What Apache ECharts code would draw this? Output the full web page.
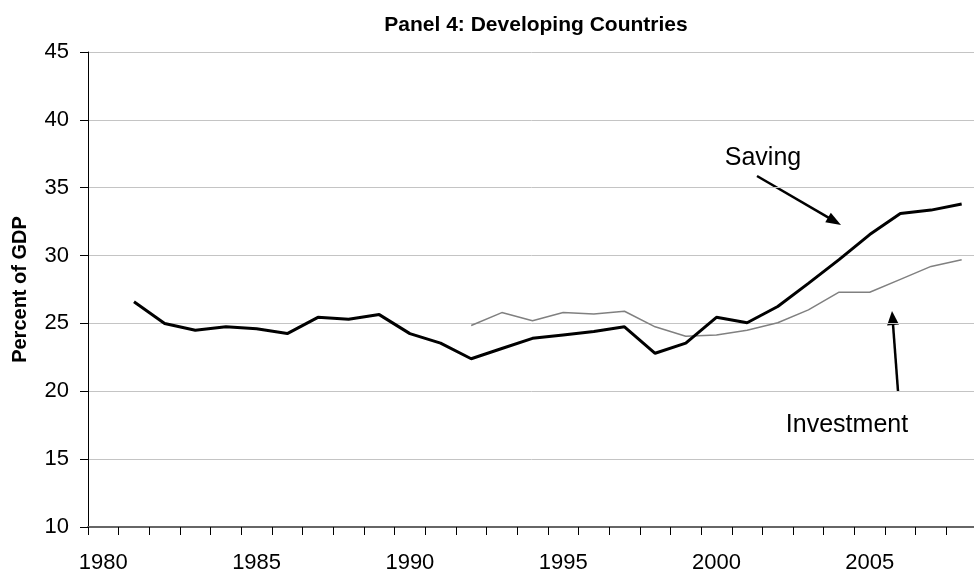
<!DOCTYPE html>
<html><head><meta charset="utf-8">
<script src="https://cdn.jsdelivr.net/npm/echarts@6/dist/echarts.min.js"></script>
<style>html,body{margin:0;padding:0;background:#fff}#c{width:974px;height:578px}</style>
</head><body><div id="c"></div>
<script>
const years = ['1980','1981','1982','1983','1984','1985','1986','1987','1988','1989','1990','1991','1992','1993','1994','1995','1996','1997','1998','1999','2000','2001','2002','2003','2004','2005','2006','2007','2008'];
const saving = [null,26.6,25.0,24.5,24.75,24.6,24.25,25.45,25.3,25.65,24.25,23.55,22.4,23.15,23.9,24.15,24.4,24.75,22.8,23.55,25.45,25.05,26.25,27.95,29.7,31.55,33.1,33.35,33.8];
const investment = [null,null,null,null,null,null,null,null,null,null,null,null,24.85,25.8,25.2,25.8,25.7,25.9,24.75,24.05,24.15,24.5,25.05,26.0,27.3,27.3,28.25,29.2,29.7];
const yTicks = {min:10, max:45, interval:5};

const chart = echarts.init(document.getElementById('c'), null, {renderer:'canvas'});
const FF = '"Liberation Sans", Arial, sans-serif';

function arrow(x0,y0,x1,y1,headLen,headW,lw){
  const dx=x1-x0, dy=y1-y0, L=Math.hypot(dx,dy), ux=dx/L, uy=dy/L;
  const bx=x1-ux*headLen, by=y1-uy*headLen;
  const px=-uy*headW/2, py=ux*headW/2;
  return [
    {type:'line', shape:{x1:x0,y1:y0,x2:bx+ux*2,y2:by+uy*2}, style:{stroke:'#000',lineWidth:lw}},
    {type:'polygon', shape:{points:[[x1,y1],[bx+px,by+py],[bx-px,by-py]]}, style:{fill:'#000'}}
  ];
}

chart.setOption({
  animation:false,
  backgroundColor:'#fff',
  title:{text:'Panel 4: Developing Countries', left:531, textAlign:'center', top:10,
    textStyle:{fontFamily:FF, fontSize:21, fontWeight:'bold', color:'#000'}},
  grid:{left:88, top:52, right:-3, bottom:51, containLabel:false, outerBoundsMode:'none'},
  xAxis:{type:'category', data:years, boundaryGap:true,
    axisLine:{show:true, lineStyle:{color:'#666', width:2}},
    axisTick:{show:true, interval:0, length:8, lineStyle:{color:'#000', width:1}},
    axisLabel:{show:true, interval:4, fontFamily:FF, fontSize:22, color:'#000', margin:25},
    splitLine:{show:false}},
  yAxis:{type:'value', min:yTicks.min, max:yTicks.max, interval:yTicks.interval,
    name:'Percent of GDP', nameLocation:'middle', nameRotate:90, nameGap:58,
    nameTextStyle:{fontFamily:FF, fontSize:20, fontWeight:'bold', color:'#000'},
    axisLine:{show:true, lineStyle:{color:'#000', width:1}},
    axisTick:{show:true, length:8, lineStyle:{color:'#000'}},
    axisLabel:{fontFamily:FF, fontSize:22, color:'#000', margin:19},
    splitLine:{lineStyle:{color:'#c4c4c4', width:1}}},
  series:[
    {name:'Investment', type:'line', data:investment, symbol:'none', connectNulls:false,
      lineStyle:{color:'#808080', width:1.5}, z:2},
    {name:'Saving', type:'line', data:saving, symbol:'none', connectNulls:false,
      lineStyle:{color:'#000', width:3}, z:3}
  ],
  graphic:[
    {type:'text', x:763, y:158, style:{text:'Saving', fontFamily:FF, fontSize:25, fill:'#000', textAlign:'center', textVerticalAlign:'middle'}},
    {type:'text', x:847, y:425, style:{text:'Investment', fontFamily:FF, fontSize:25, fill:'#000', textAlign:'center', textVerticalAlign:'middle'}},
    ...arrow(757,176,841,225,15,11,2.5),
    ...arrow(898,391,892,311,14,12,2.5)
  ]
});
</script></body></html>
